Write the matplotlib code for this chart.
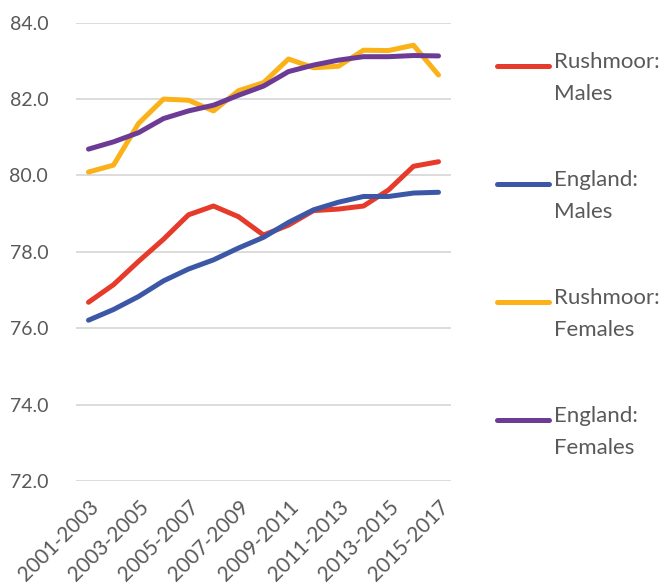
import matplotlib.pyplot as plt
from matplotlib.lines import Line2D

periods = [f"{y}-{y + 2}" for y in range(2001, 2016)]

rushmoor_males = [76.68, 77.14, 77.75, 78.33, 78.97, 79.20, 78.92, 78.44,
                  78.70, 79.08, 79.12, 79.20, 79.62, 80.24, 80.36]
england_males = [76.21, 76.49, 76.83, 77.24, 77.55, 77.79, 78.10, 78.38,
                 78.77, 79.10, 79.30, 79.45, 79.45, 79.54, 79.56]
rushmoor_females = [80.09, 80.27, 81.36, 82.00, 81.97, 81.69, 82.22, 82.43,
                    83.05, 82.82, 82.86, 83.28, 83.27, 83.41, 82.63]
england_females = [80.69, 80.88, 81.12, 81.49, 81.69, 81.84, 82.10, 82.34,
                   82.72, 82.89, 83.02, 83.11, 83.11, 83.14, 83.13]

series = [
    ("Rushmoor:\nMales", rushmoor_males, "#E63B2A"),
    ("England:\nMales", england_males, "#3D57A7"),
    ("Rushmoor:\nFemales", rushmoor_females, "#FAB218"),
    ("England:\nFemales", england_females, "#6C3B96"),
]

text_color = "#595959"
plt.rcParams['font.family'] = ['Lato', 'DejaVu Sans']

fig = plt.figure(figsize=(6.61, 5.86), dpi=100)
ax = fig.add_axes([76 / 661, 1 - 481 / 586, 375 / 661, (481 - 22.7) / 586])

x = list(range(len(periods)))
for label, vals, color in series:
    ax.plot(x, vals, color=color, linewidth=3.6, solid_capstyle='round',
            solid_joinstyle='round', zorder=3)

ax.set_ylim(72, 84)
ax.set_xlim(-0.5, len(periods) - 0.5)
ax.set_yticks(range(72, 85, 2))
ax.set_yticklabels([f"{v:.1f}" for v in range(72, 85, 2)])
ax.set_xticks(x[::2])
ax.set_xticklabels(periods[::2], rotation=45, ha='right', rotation_mode='anchor')

ax.grid(axis='y', color='#D9D9D9', linewidth=1.3)
ax.set_axisbelow(True)
for side in ax.spines.values():
    side.set_visible(False)
ax.tick_params(length=0, colors=text_color)
ax.tick_params(axis='y', labelsize=14, pad=20)
ax.tick_params(axis='x', labelsize=15, pad=11)

# legend drawn by hand so the line sits beside the first text line
legend_y = [66, 184, 302, 420]
for (label, vals, color), ly in zip(series, legend_y):
    fy = 1 - ly / 586
    fig.add_artist(Line2D([497 / 661, 549 / 661], [fy, fy], color=color,
                          linewidth=3.6, solid_capstyle='round'))
    fig.text(554 / 661, fy + 14 / 586, label, ha='left', va='top',
             fontsize=16, color=text_color, linespacing=1.75)

fig.savefig("out.png", dpi=100)
